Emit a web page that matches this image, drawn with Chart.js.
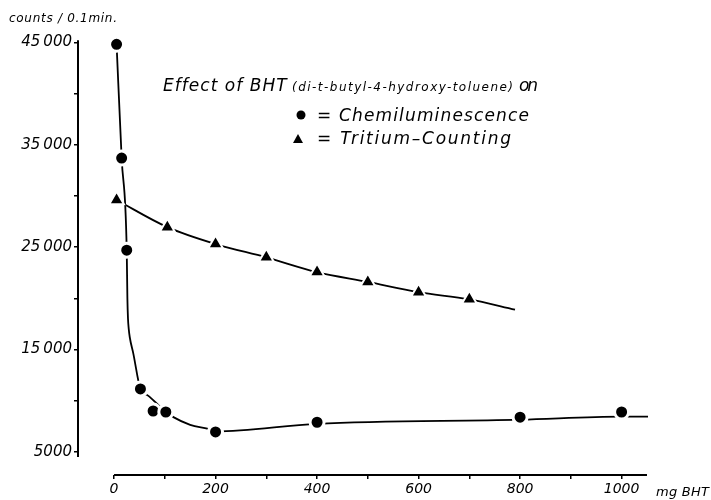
<!DOCTYPE html>
<html>
<head>
<meta charset="utf-8">
<script src="https://cdn.jsdelivr.net/npm/chart.js@4"></script>
<style>
  body { margin: 0; background: #fff; }
</style>
</head>
<body>
<canvas id="chart" width="711" height="500"></canvas>
<script>
// measured points
const chemiDose = [5, 15, 25, 52, 77, 102, 200, 400, 800, 1000];
const chemiCounts = [44800, 33700, 24700, 11150, 9000, 8900, 6950, 7900, 8400, 8900];
const tritiumDose = [5, 105, 200, 300, 400, 500, 600, 700];
const tritiumCounts = [29600, 26950, 25300, 24000, 22560, 21600, 20600, 19900];

// hand drawn fit curves
const chemiCurveDose = [5, 15, 25, 26.3, 27.5, 29, 31, 38, 52, 67, 89, 102, 117, 150, 189, 200, 400, 800, 1000, 1060];
const chemiCurveCounts = [44800, 33700, 24700, 20000, 18000, 17000, 16200, 14600, 11150, 10500, 9500, 8930, 8400, 7650, 7200, 7000, 7750, 8150, 8450, 8450];
const tritiumCurveDose = [5, 105, 200, 300, 400, 500, 600, 700, 790];
const tritiumCurveCounts = [29600, 26950, 25300, 24000, 22560, 21600, 20600, 19900, 18900];

const xTicks = [0, 100, 200, 300, 400, 500, 600, 700, 800, 900, 1000];
const yTicks = [5000, 10000, 15000, 20000, 25000, 30000, 35000, 40000, 45000];
const yLabels = {5000: '5000', 15000: '15\u2009000', 25000: '25\u2009000', 35000: '35\u2009000', 45000: '45\u2009000'};

const FONT = '"DejaVu Sans", sans-serif';

function pts(xs, ys) {
    return xs.map((x, i) => ({x: x, y: ys[i]}));
}

// draw text stretched to a given width (the original lettering is wide)
function fitText(ctx, text, x, y, width, size) {
    ctx.font = 'oblique ' + size + 'px ' + FONT;
    ctx.letterSpacing = '0px';
    let w = ctx.measureText(text).width;
    let sp = (width - w) / Math.max(1, text.length - 1);
    ctx.letterSpacing = sp + 'px';
    ctx.fillText(text, x, y);
    ctx.letterSpacing = '0px';
}

const decor = {
    id: 'decor',
    afterDraw(chart) {
        const ctx = chart.ctx;
        const xs = chart.scales.x, ys = chart.scales.y;
        ctx.save();
        ctx.strokeStyle = '#000';
        ctx.fillStyle = '#000';
        ctx.lineWidth = 2;
        // axes
        ctx.beginPath();
        ctx.moveTo(xs.getPixelForValue(0), chart.chartArea.bottom);
        ctx.lineTo(xs.getPixelForValue(1050), chart.chartArea.bottom);
        ctx.stroke();
        ctx.beginPath();
        ctx.moveTo(chart.chartArea.left, ys.getPixelForValue(45200));
        ctx.lineTo(chart.chartArea.left, ys.getPixelForValue(4500));
        ctx.stroke();

        ctx.textBaseline = 'alphabetic';
        ctx.textAlign = 'left';
        fitText(ctx, 'counts / 0.1min.', 9, 22, 108, 12);
        fitText(ctx, 'mg BHT', 656, 496, 53, 13);

        fitText(ctx, 'Effect of BHT', 163, 91, 124, 17);
        fitText(ctx, '(di-t-butyl-4-hydroxy-toluene)', 292, 91, 221, 12);
        fitText(ctx, 'on', 519, 91, 19, 17);

        ctx.beginPath();
        ctx.arc(301, 115, 4.5, 0, Math.PI * 2);
        ctx.fill();
        fitText(ctx, '= Chemiluminescence', 317, 121, 212, 17);

        ctx.beginPath();
        ctx.moveTo(298, 134);
        ctx.lineTo(303, 143);
        ctx.lineTo(293, 143);
        ctx.closePath();
        ctx.fill();
        fitText(ctx, '= Tritium\u2013Counting', 317, 144, 194, 17);
        ctx.restore();
    }
};

const ctx = document.getElementById('chart');

new Chart(ctx, {
    type: 'scatter',
    data: {
        datasets: [
            {
                label: 'Chemiluminescence',
                data: pts(chemiDose, chemiCounts),
                pointStyle: 'circle',
                pointRadius: 7,
                backgroundColor: '#000',
                borderColor: '#fff',
                borderWidth: 3,
                order: 0
            },
            {
                label: 'Tritium-Counting',
                data: pts(tritiumDose, tritiumCounts),
                pointStyle: 'triangle',
                pointRadius: 8.5,
                backgroundColor: '#000',
                borderColor: '#fff',
                borderWidth: 2,
                order: 0
            },
            {
                label: 'chemi fit',
                data: pts(chemiCurveDose, chemiCurveCounts),
                showLine: true,
                pointRadius: 0,
                borderColor: '#000',
                borderWidth: 1.8,
                cubicInterpolationMode: 'monotone',
                order: 1
            },
            {
                label: 'tritium fit',
                data: pts(tritiumCurveDose, tritiumCurveCounts),
                showLine: true,
                pointRadius: 0,
                borderColor: '#000',
                borderWidth: 1.8,
                cubicInterpolationMode: 'monotone',
                order: 1
            }
        ]
    },
    options: {
        responsive: false,
        animation: false,
        layout: {
            padding: {top: 30, right: 63, bottom: 0, left: 0}
        },
        plugins: {
            legend: {display: false},
            tooltip: {enabled: false}
        },
        scales: {
            x: {
                type: 'linear',
                min: -71,
                max: 1052,
                afterBuildTicks: (scale) => { scale.ticks = xTicks.map(v => ({value: v})); },
                afterFit: (scale) => { scale.height = 25; },
                border: {display: false},
                grid: {display: true, drawOnChartArea: false, color: '#000', lineWidth: 1.5, tickLength: 4},
                ticks: {
                    color: '#000',
                    padding: 2,
                    maxRotation: 0,
                    autoSkip: false,
                    font: {family: FONT, style: 'oblique', size: 14},
                    callback: (v) => (v % 200 === 0 ? String(v) : '')
                }
            },
            y: {
                type: 'linear',
                min: 2750,
                max: 46200,
                afterBuildTicks: (scale) => { scale.ticks = yTicks.map(v => ({value: v})); },
                afterFit: (scale) => { scale.width = 78; },
                border: {display: false},
                grid: {display: true, drawOnChartArea: false, color: '#000', lineWidth: 1.5, tickLength: 4},
                ticks: {
                    color: '#000',
                    padding: 2,
                    autoSkip: false,
                    font: {family: FONT, style: 'oblique', size: 15},
                    callback: (v) => (yLabels[v] || '')
                }
            }
        }
    },
    plugins: [decor]
});
</script>
</body>
</html>
